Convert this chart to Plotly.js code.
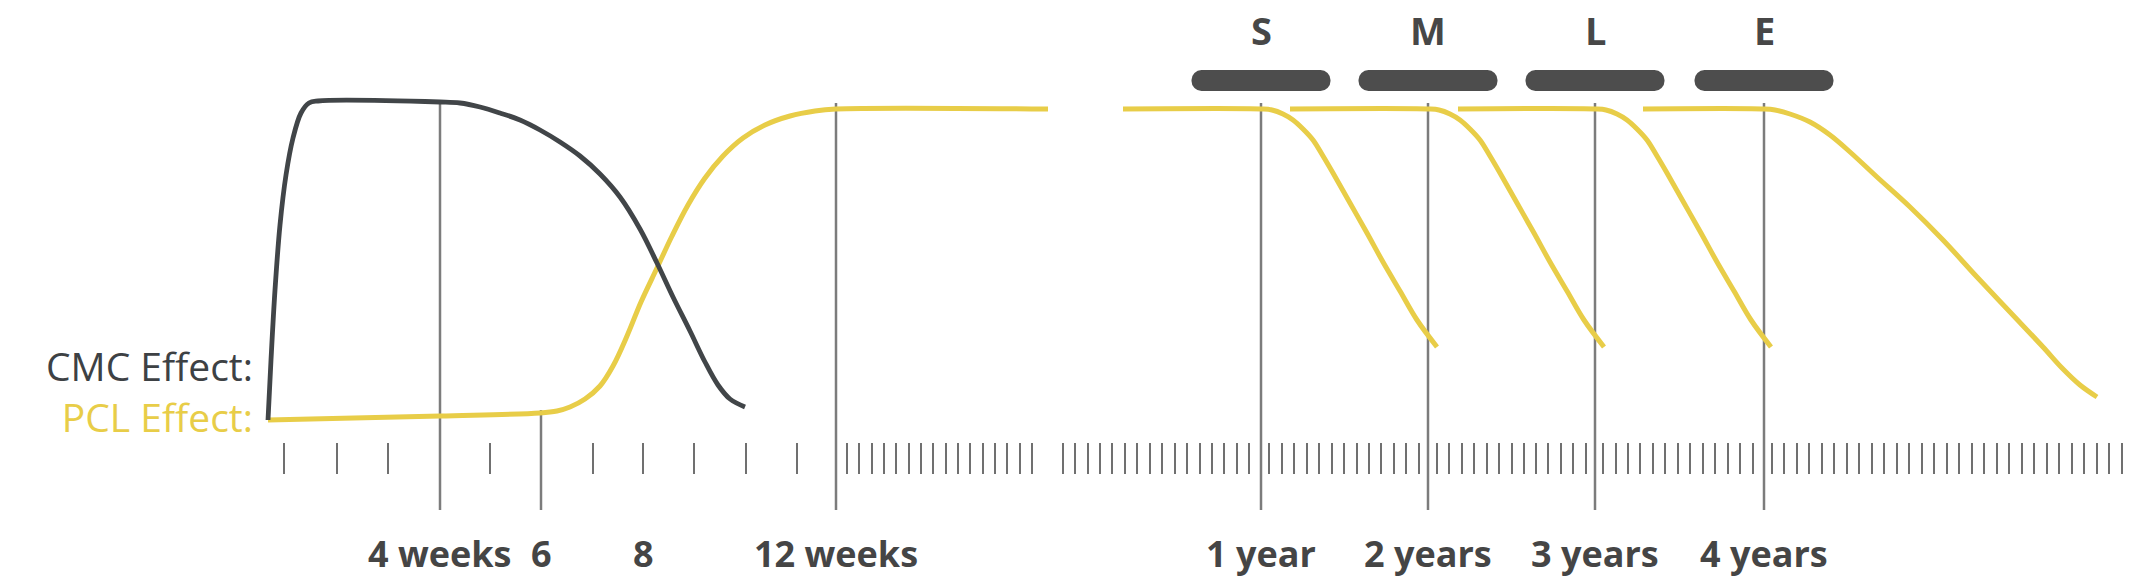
<!DOCTYPE html>
<html>
<head>
<meta charset="utf-8">
<script src="https://cdn.plot.ly/plotly-3.0.1.min.js"></script>
<style>html,body{margin:0;padding:0;background:#fff;}#chart{width:2133px;height:585px;}</style>
</head>
<body>
<div id="chart"></div>
<script>
// ---- Data (schematic timeline positions; y = schematic height, top = 0) ----
// CMC effect curve
const cmcX = [268, 271, 275, 280, 286, 293, 301, 309, 318, 440, 460, 480, 500, 520, 540, 560, 580, 600, 620, 640, 657, 673, 690, 705, 718, 730, 745];
const cmcY = [420, 360, 290, 225, 175, 138, 113, 103, 101, 102, 103, 107, 113, 120, 130, 142, 156, 174, 197, 229, 263, 297, 331, 362, 385, 399, 407];

// PCL effect: initial build-up to 12 weeks
const pclX0 = [268, 440, 540, 557, 570, 585, 600, 613, 627, 641, 657, 672, 688, 705, 723, 743, 765, 790, 815, 836, 1048];
const pclY0 = [420, 416, 413, 411, 407, 399, 386, 366, 336, 302, 268, 236, 205, 178, 156, 138, 125, 116, 111, 109, 109];
// PCL effect: S (1 year) decline
const pclXS = [1123, 1261, 1272, 1283, 1293, 1303, 1313, 1323, 1333, 1350, 1367, 1383, 1400, 1417, 1437];
const pclYS = [109, 109, 110, 114, 120, 129, 140, 156, 173, 203, 233, 262, 291, 320, 347];
// PCL effect: M (2 years) decline
const pclXM = [1290, 1428, 1439, 1450, 1460, 1470, 1480, 1490, 1500, 1517, 1534, 1550, 1567, 1584, 1604];
const pclYM = [109, 109, 110, 114, 120, 129, 140, 156, 173, 203, 233, 262, 291, 320, 347];
// PCL effect: L (3 years) decline
const pclXL = [1458, 1595, 1606, 1617, 1627, 1637, 1647, 1657, 1667, 1684, 1701, 1717, 1734, 1751, 1771];
const pclYL = [109, 109, 110, 114, 120, 129, 140, 156, 173, 203, 233, 262, 291, 320, 347];
// PCL effect: E (4 years) decline
const pclXE = [1643, 1762, 1775, 1790, 1810, 1830, 1850, 1877, 1910, 1943, 1977, 2010, 2043, 2062, 2080, 2097];
const pclYE = [109, 109, 110, 114, 122, 135, 152, 177, 207, 240, 277, 312, 347, 368, 385, 397];

// Milestone lines
const milestoneX   = [440, 541, 836, 1261, 1428, 1595, 1764];
const milestoneTop = [103, 410, 103, 103, 103, 103, 103];

// Bottom labels
const labelText = ['4 weeks', '6', '8', '12 weeks', '1 year', '2 years', '3 years', '4 years'];
const labelX    = [440, 541, 643, 836, 1261, 1428, 1595, 1764];

// Phase markers (at the yearly milestones)
const phases  = ['S', 'M', 'L', 'E'];
const phaseX  = [1261, 1428, 1595, 1764];

// Series names
const seriesNames = ['CMC Effect:', 'PCL Effect:'];

// Ruler ticks
const rulerTicks = [
  284, 337, 388, 490, 593, 643, 694, 746, 797,
  847, 859, 872, 884, 896, 909, 921, 933, 946, 958, 970, 983, 995, 1007, 1020, 1032,
  1063, 1075, 1088, 1100, 1112, 1125, 1137, 1150, 1162, 1175, 1187, 1200, 1212, 1224, 1237, 1249,
  1269, 1282, 1294, 1307, 1319, 1332, 1344, 1357, 1369, 1381, 1394, 1406, 1419,
  1437, 1449, 1462, 1474, 1487, 1499, 1512, 1524, 1536, 1548, 1561, 1573, 1586,
  1603, 1616, 1628, 1640, 1653, 1665, 1678, 1690, 1703, 1715, 1728, 1740, 1753,
  1772, 1784, 1797, 1809, 1822, 1834, 1847, 1859, 1872, 1884, 1897, 1909, 1922, 1934, 1947,
  1959, 1972, 1984, 1997, 2009, 2022, 2034, 2047, 2059, 2072, 2084, 2097, 2109, 2122
];

// ---- Styles ----
const YELLOW = '#e8cd48';
const DARK = '#414548';
const DARK_TEXT = '#3d4144';
const GRAY = '#7c7c7c';
const PILL = '#4d4d4d';
const FONT = 'Open Sans, sans-serif';
const LINE_BOTTOM = 510;
const PILL_HALF = 69.5, PILL_Y = 80.5, PILL_H = 21, PILL_CORE = 55;

// milestone segments
const mlX = [], mlY = [];
milestoneX.forEach((x, i) => { mlX.push(x, x, null); mlY.push(milestoneTop[i], LINE_BOTTOM, null); });

const traces = [];
traces.push({type: 'scatter', mode: 'lines', x: mlX, y: mlY, line: {color: GRAY, width: 2.5}, hoverinfo: 'skip'});

// pills: rounded half-bars on each side plus a square core in the middle
const pillBase = [], pillLen = [], pillY = [];
phaseX.forEach(c => { pillBase.push(c, c); pillLen.push(PILL_HALF, -PILL_HALF); pillY.push(PILL_Y, PILL_Y); });
traces.push({type: 'bar', orientation: 'h', base: pillBase, x: pillLen, y: pillY, width: PILL_H,
  marker: {color: PILL, cornerradius: 10, line: {width: 0}}, hoverinfo: 'skip'});
traces.push({type: 'bar', orientation: 'h', base: phaseX.map(c => c - PILL_CORE), x: phaseX.map(() => 2 * PILL_CORE),
  y: phaseX.map(() => PILL_Y), width: PILL_H, marker: {color: PILL, line: {width: 0}}, hoverinfo: 'skip'});

function curve(x, y, color, w) {
  return {type: 'scatter', mode: 'lines', x: x, y: y, line: {color: color, width: w, shape: 'spline', smoothing: 1}, hoverinfo: 'skip'};
}
traces.push(curve(pclX0, pclY0, YELLOW, 5));
traces.push(curve(pclXS, pclYS, YELLOW, 5));
traces.push(curve(pclXM, pclYM, YELLOW, 5));
traces.push(curve(pclXL, pclYL, YELLOW, 5));
traces.push(curve(pclXE, pclYE, YELLOW, 5));
traces.push(curve(cmcX, cmcY, DARK, 4.8));

const annotations = [];
labelText.forEach((t, i) => annotations.push({x: labelX[i], y: 553, xref: 'x', yref: 'y', text: t, showarrow: false,
  xanchor: 'center', yanchor: 'middle', font: {family: FONT, size: 36, color: '#454545', weight: 700}}));
phases.forEach((t, i) => annotations.push({x: phaseX[i], y: 30, xref: 'x', yref: 'y', text: t, showarrow: false,
  xanchor: 'center', yanchor: 'middle', font: {family: FONT, size: 38, color: '#474747', weight: 700}}));
// both series names in one two-line label (line spacing ~50px as in the reference)
annotations.push({x: 255, y: 391, xref: 'x', yref: 'y', showarrow: false, align: 'right',
  xanchor: 'right', yanchor: 'middle', font: {family: FONT, size: 39, color: DARK_TEXT},
  text: '<span style="color:' + DARK_TEXT + '">' + seriesNames[0] + '</span><br>' +
        '<span style="color:' + YELLOW + '">' + seriesNames[1] + '</span>'});

const layout = {
  width: 2133, height: 585,
  margin: {l: 0, r: 0, t: 0, b: 0, pad: 0},
  paper_bgcolor: '#ffffff', plot_bgcolor: '#ffffff',
  showlegend: false, barmode: 'overlay',
  xaxis: {range: [0, 2133], showgrid: false, zeroline: false, showline: false, showticklabels: false,
    tickmode: 'array', tickvals: rulerTicks, ticks: 'outside', ticklen: 31, tickwidth: 2.5, tickcolor: '#707070',
    anchor: 'free', position: 1 - 442 / 585, fixedrange: true},
  yaxis: {range: [585, 0], visible: false, fixedrange: true},
  annotations: annotations
};

Plotly.newPlot('chart', traces, layout, {displayModeBar: false, staticPlot: true});
</script>
</body>
</html>
